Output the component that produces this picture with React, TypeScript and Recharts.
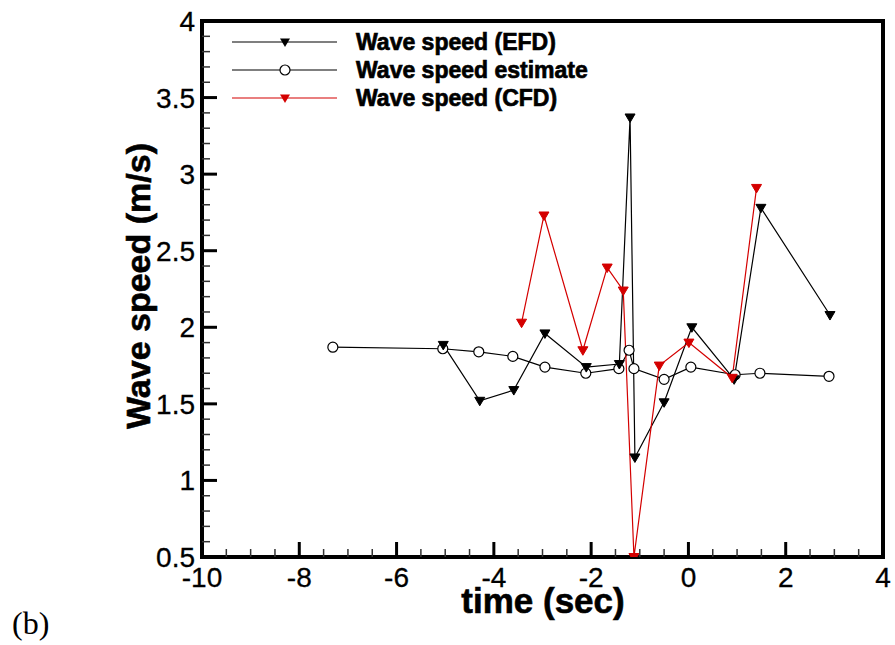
import React from 'react';
import {
  LineChart,
  Line,
  XAxis,
  YAxis,
  ReferenceArea
} from 'recharts';

// Wave speed (EFD) - measured
const efdTime = [-5.04, -4.29, -3.59, -2.95, -2.1, -1.42, -1.2, -1.1, -0.5, 0.07, 0.94, 1.49, 2.91];
const efdSpeed = [1.885, 1.52, 1.59, 1.96, 1.74, 1.76, 3.37, 1.15, 1.51, 2.0, 1.66, 2.78, 2.08];

// Wave speed estimate
const estTime = [-7.31, -5.05, -4.31, -3.61, -2.95, -2.11, -1.43, -1.22, -1.12, -0.5, 0.05, 0.96, 1.47, 2.89];
const estSpeed = [1.87, 1.86, 1.84, 1.81, 1.74, 1.7, 1.73, 1.85, 1.73, 1.66, 1.74, 1.69, 1.7, 1.68];

// Wave speed (CFD)
const cfdTime = [-3.43, -2.97, -2.17, -1.67, -1.34, -1.12, -0.6, 0.01, 0.9, 1.4];
const cfdSpeed = [2.03, 2.73, 1.85, 2.39, 2.24, 0.5, 1.75, 1.9, 1.67, 2.91];

const xMajorTicks = [-10, -8, -6, -4, -2, 0, 2, 4];
const xAllTicks = [
  -10, -9.5, -9, -8.5, -8, -7.5, -7, -6.5, -6, -5.5, -5, -4.5, -4, -3.5, -3,
  -2.5, -2, -1.5, -1, -0.5, 0, 0.5, 1, 1.5, 2, 2.5, 3, 3.5, 4
];
const yMajorTicks = [0.5, 1, 1.5, 2, 2.5, 3, 3.5, 4];
const yAllTicks = [
  0.5, 0.6, 0.7, 0.8, 0.9, 1, 1.1, 1.2, 1.3, 1.4, 1.5, 1.6, 1.7, 1.8, 1.9, 2,
  2.1, 2.2, 2.3, 2.4, 2.5, 2.6, 2.7, 2.8, 2.9, 3, 3.1, 3.2, 3.3, 3.4, 3.5,
  3.6, 3.7, 3.8, 3.9, 4
];

const RED = '#d40000';
const FONT = '"Liberation Sans", Arial, sans-serif';

const toRows = (t: number[], v: number[]) => t.map((x, i) => ({ t: x, v: v[i] }));
const efdData = toRows(efdTime, efdSpeed);
const estData = toRows(estTime, estSpeed);
const cfdData = toRows(cfdTime, cfdSpeed);

const isMajor = (list: number[], v: number) => list.some(m => Math.abs(m - v) < 1e-6);

// inward ticks on the bottom axis
const XTick = (props: any) => {
  const { x, y, payload } = props;
  const major = isMajor(xMajorTicks, payload.value);
  return (
    <g>
      <line x1={x} x2={x} y1={y} y2={y - (major ? 15 : 8)} stroke={major ? '#000' : '#333'} strokeWidth={major ? 3 : 1.5} />
      {major && (
        <text x={x} y={y + 30} textAnchor="middle" fontFamily={FONT} fontSize={28} fill="#000" stroke="#000" strokeWidth={0.3}>
          {payload.value}
        </text>
      )}
    </g>
  );
};

// inward ticks on the left axis
const YTick = (props: any) => {
  const { x, y, payload } = props;
  const major = isMajor(yMajorTicks, payload.value);
  return (
    <g>
      <line x1={x} x2={x + (major ? 15 : 8)} y1={y} y2={y} stroke={major ? '#000' : '#333'} strokeWidth={major ? 3 : 1.5} />
      {major && (
        <text x={x - 7} y={y + 10} textAnchor="end" fontFamily={FONT} fontSize={28} fill="#000" stroke="#000" strokeWidth={0.3}>
          {payload.value}
        </text>
      )}
    </g>
  );
};

const DownTriangle = (color: string) => (props: any) => {
  const { cx, cy, index } = props;
  if (cx == null || cy == null) return <g key={index} />;
  return (
    <polygon
      key={index}
      points={`${cx - 5},${cy - 3.5} ${cx + 5},${cy - 3.5} ${cx},${cy + 5}`}
      fill={color}
      stroke={color}
      strokeWidth={1}
    />
  );
};

const OpenCircle = (props: any) => {
  const { cx, cy, index } = props;
  if (cx == null || cy == null) return <g key={index} />;
  return <circle key={index} cx={cx} cy={cy} r={5} fill="#fff" stroke="#000" strokeWidth={1.2} />;
};

const legendRows = [
  { label: 'Wave speed (EFD)', color: '#000', marker: 'tri' },
  { label: 'Wave speed estimate', color: '#000', marker: 'circle' },
  { label: 'Wave speed (CFD)', color: RED, marker: 'tri' }
];

const Overlay = () => (
  <svg width={895} height={645} style={{ position: 'absolute', left: 0, top: 0, pointerEvents: 'none' }}>
    {legendRows.map((row, i) => {
      const y = 42 + i * 28;
      return (
        <g key={row.label}>
          <line x1={232} x2={337} y1={y} y2={y} stroke={row.color} strokeWidth={1.2} />
          {row.marker === 'tri' ? (
            <polygon points={`${280},${y - 3.5} ${290},${y - 3.5} ${285},${y + 5}`} fill={row.color} />
          ) : (
            <circle cx={285} cy={y} r={5} fill="#fff" stroke="#000" strokeWidth={1.2} />
          )}
          <text x={356} y={y + 8} fontFamily={FONT} fontWeight="bold" fontSize={23} fill="#000" stroke="#000" strokeWidth={0.7}>
            {row.label}
          </text>
        </g>
      );
    })}
    <text
      x={150}
      y={286}
      transform="rotate(-90 150 286)"
      textAnchor="middle"
      fontFamily={FONT}
      fontWeight="bold"
      fontSize={34}
      fill="#000"
      stroke="#000"
      strokeWidth={0.6}
    >
      Wave speed (m/s)
    </text>
    <text x={543} y={613} textAnchor="middle" fontFamily={FONT} fontWeight="bold" fontSize={35} fill="#000" stroke="#000" strokeWidth={0.6}>
      time (sec)
    </text>
    <text x={12} y={634} fontFamily='"Liberation Serif", "Times New Roman", serif' fontSize={32} fill="#000">
      (b)
    </text>
  </svg>
);

export default function App() {
  return (
    <div style={{ position: 'absolute', left: 0, top: 0, width: 895, height: 645, background: '#fff' }}>
      <LineChart width={895} height={645} margin={{ top: 21, right: 12, left: 122, bottom: 48 }}>
        <XAxis
          type="number"
          dataKey="t"
          domain={[-10, 4]}
          ticks={xAllTicks}
          interval={0}
          allowDataOverflow
          height={40}
          tickSize={0}
          tickMargin={0}
          tickLine={false}
          axisLine={{ stroke: '#000', strokeWidth: 4 }}
          tick={<XTick />}
        />
        <YAxis
          type="number"
          dataKey="v"
          domain={[0.5, 4]}
          ticks={yAllTicks}
          interval={0}
          allowDataOverflow
          width={80}
          tickSize={0}
          tickMargin={0}
          tickLine={false}
          axisLine={{ stroke: '#000', strokeWidth: 4 }}
          tick={<YTick />}
        />
        <ReferenceArea x1={-10} x2={4} y1={0.5} y2={4} fill="none" stroke="#000" strokeWidth={4} ifOverflow="visible" />
        <Line
          data={estData}
          dataKey="v"
          type="linear"
          stroke="#000"
          strokeWidth={1.2}
          dot={OpenCircle}
          isAnimationActive={false}
        />
        <Line
          data={efdData}
          dataKey="v"
          type="linear"
          stroke="#000"
          strokeWidth={1.2}
          dot={DownTriangle('#000')}
          isAnimationActive={false}
        />
        <Line
          data={cfdData}
          dataKey="v"
          type="linear"
          stroke={RED}
          strokeWidth={1.2}
          dot={DownTriangle(RED)}
          isAnimationActive={false}
        />
      </LineChart>
      <Overlay />
    </div>
  );
}
